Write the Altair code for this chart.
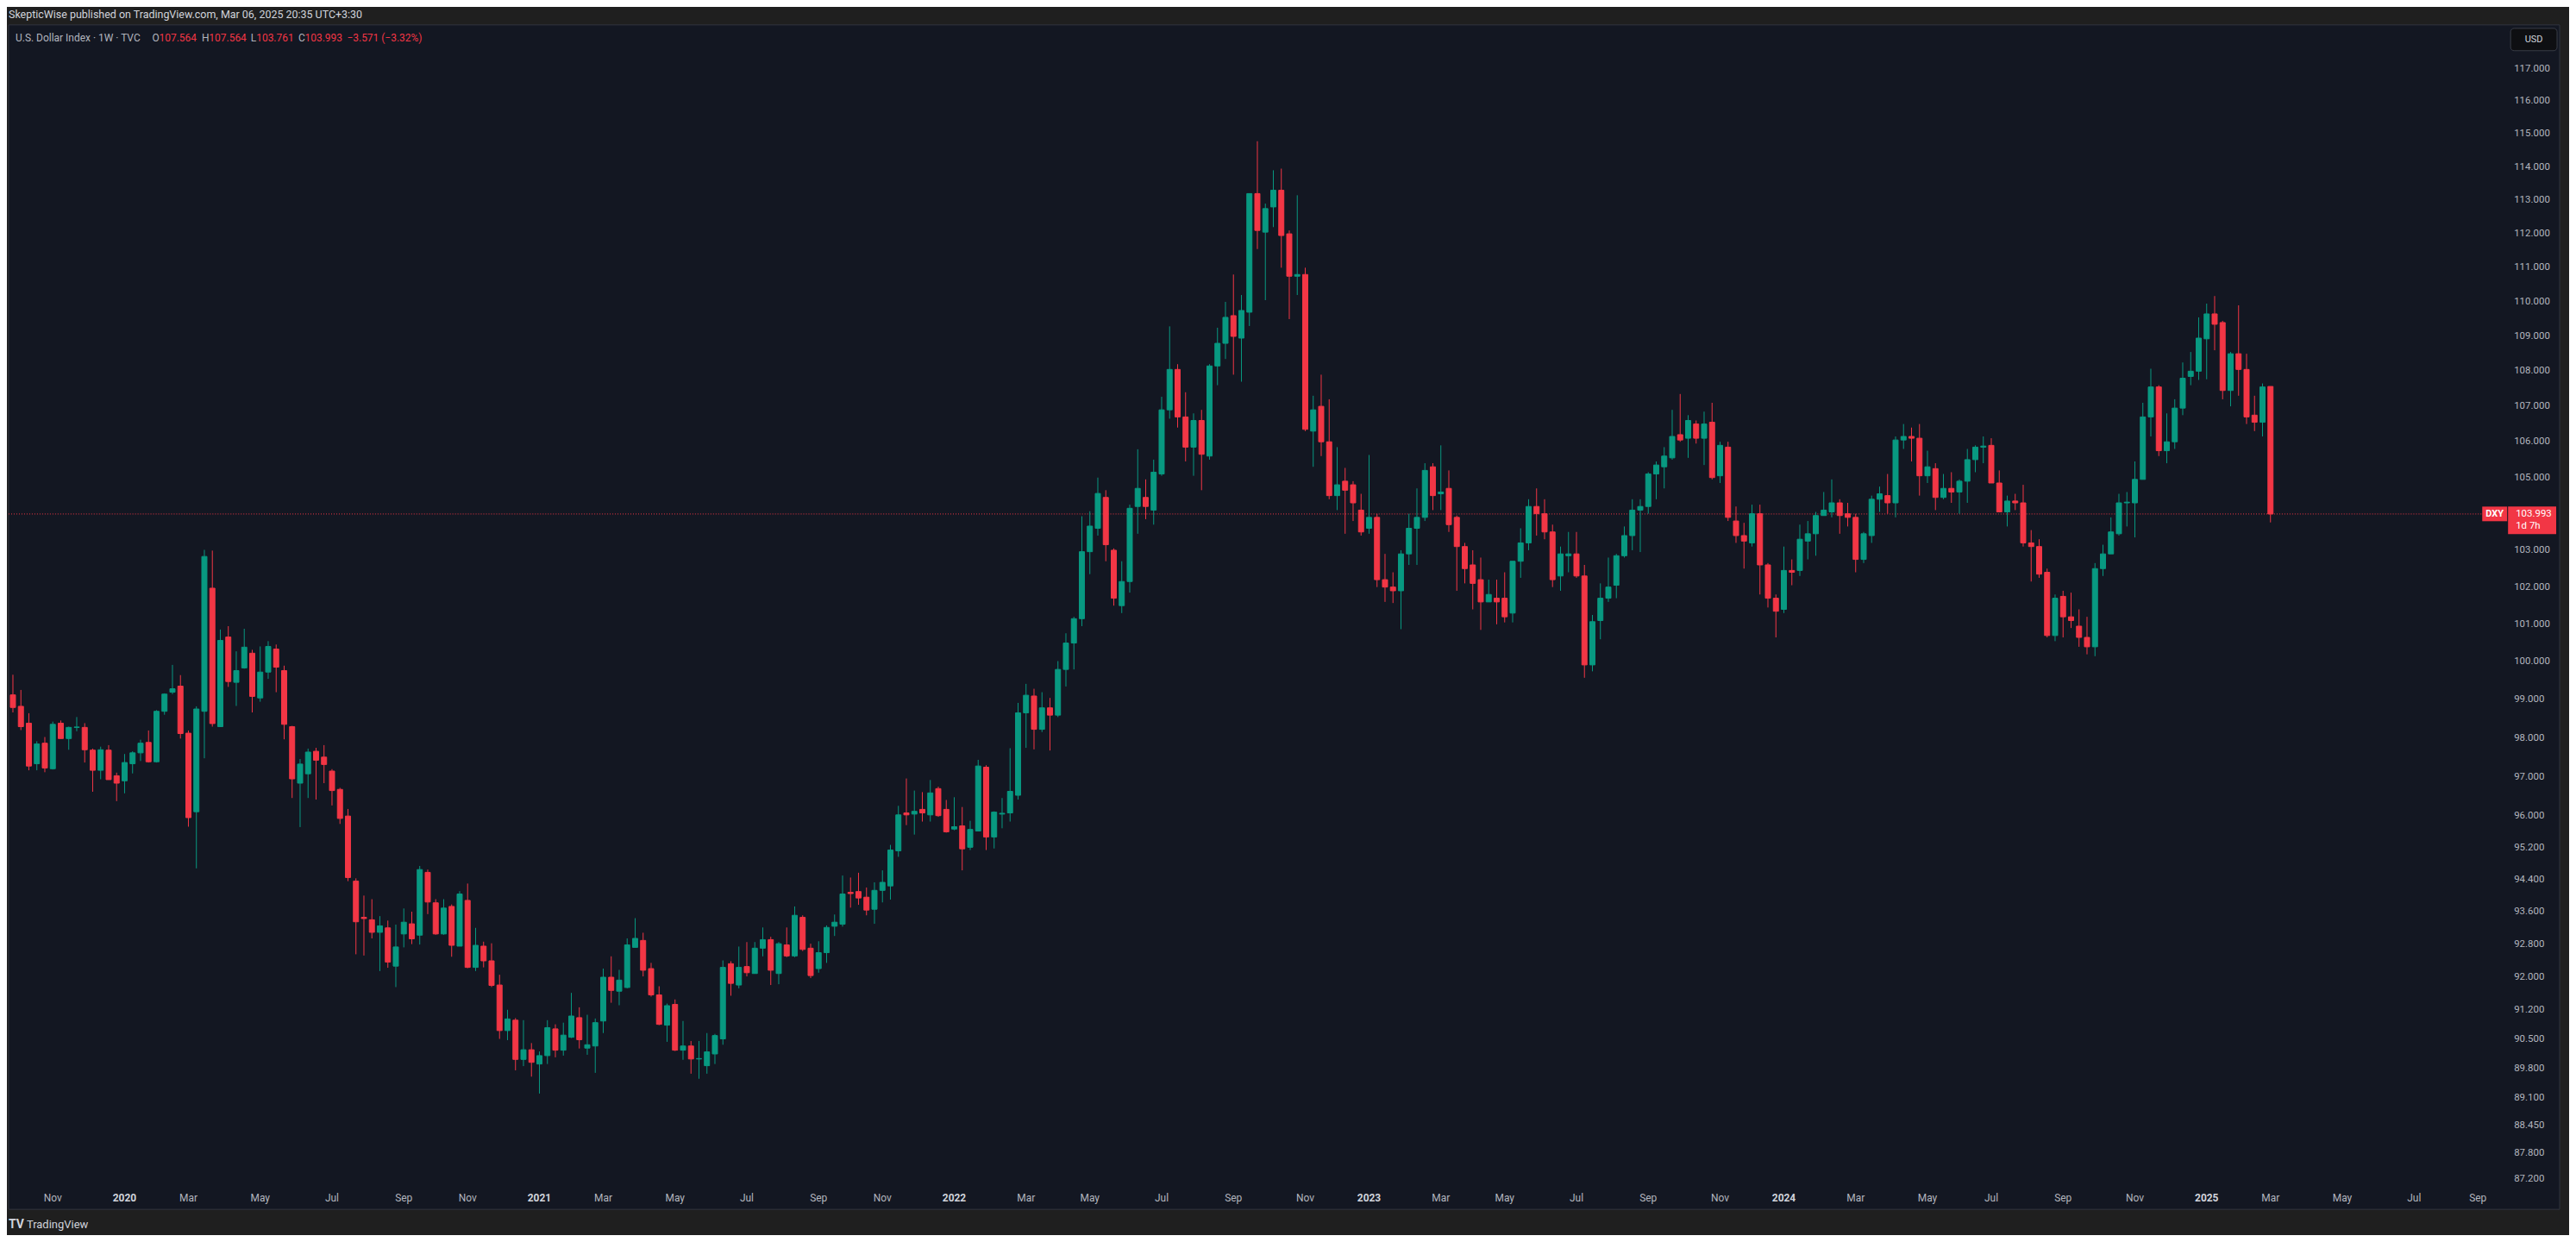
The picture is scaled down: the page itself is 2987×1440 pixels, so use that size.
import altair as alt
import pandas as pd

# ---------------- data (weekly DXY candles, first bar = week of 2019-09-30) ----------------
opens = [
    99.13, 98.83, 98.39, 97.34, 97.87, 97.21, 98.39, 97.99, 98.28, 98.28,
    97.69, 97.17, 97.69, 97.03, 96.90, 97.34, 97.62, 97.89, 97.39, 98.70,
    99.20, 99.36, 98.13, 96.11, 98.70, 101.97, 98.30, 100.66, 99.46, 99.84,
    100.23, 99.05, 99.73, 100.34, 99.77, 98.30, 96.84, 97.08, 97.66, 97.51,
    97.15, 96.68, 96.00, 94.36, 93.46, 93.40, 93.09, 93.20, 92.26, 93.05,
    93.30, 93.02, 94.58, 93.82, 93.05, 93.73, 92.75, 93.88, 92.23, 92.75,
    92.39, 91.80, 90.70, 90.95, 90.01, 90.24, 89.90, 90.10, 90.74, 90.23,
    90.54, 91.01, 90.28, 90.33, 90.93, 91.99, 91.65, 91.74, 92.72, 92.89,
    92.20, 91.56, 90.83, 91.33, 90.23, 90.33, 90.02, 89.86, 90.14, 90.50,
    92.32, 91.80, 92.25, 92.08, 92.70, 92.91, 92.08, 92.78, 92.51, 93.46,
    92.70, 92.20, 92.59, 93.24, 93.29, 94.08, 94.10, 93.96, 93.66, 94.13,
    94.24, 95.12, 96.08, 96.05, 96.17, 96.03, 96.70, 96.17, 95.67, 95.75,
    95.21, 95.62, 97.25, 95.47, 96.05, 96.08, 96.53, 98.66, 99.10, 98.23,
    98.79, 98.60, 99.80, 100.50, 101.15, 102.96, 103.60, 104.45, 103.00, 101.50,
    102.15, 104.20, 104.45, 104.10, 105.10, 106.90, 108.05, 106.70, 105.85, 106.60,
    105.60, 108.15, 108.80, 109.60, 108.95, 109.70, 113.20, 112.05, 112.80, 113.30,
    112.00, 110.75, 110.80, 106.30, 107.00, 106.00, 104.50, 104.90, 104.80, 104.10,
    103.60, 103.90, 102.20, 102.00, 101.90, 102.90, 103.60, 103.90, 105.30, 104.55,
    104.70, 103.90, 103.10, 102.60, 102.20, 101.60, 101.70, 101.70, 101.30, 102.70,
    103.20, 104.20, 104.00, 103.50, 102.30, 102.85, 102.90, 102.30, 99.92, 101.10,
    101.70, 102.05, 102.85, 103.40, 104.10, 104.20, 105.10, 105.30, 105.55, 106.20,
    106.10, 106.50, 106.10, 106.55, 105.05, 105.85, 103.80, 103.40, 103.20, 104.00,
    102.60, 101.70, 101.40, 102.45, 102.45, 103.25, 103.45, 103.95, 104.05, 104.30,
    104.00, 103.90, 102.75, 103.40, 104.40, 104.50, 104.30, 106.05, 106.15, 106.10,
    105.05, 105.25, 104.45, 104.70, 104.60, 104.90, 105.50, 105.85, 105.90, 104.85,
    104.05, 104.35, 104.30, 103.20, 103.10, 102.40, 100.70, 101.75, 101.20, 100.95,
    100.65, 100.40, 102.50, 102.90, 103.45, 104.30, 104.30, 104.95, 106.70, 107.55,
    105.75, 106.00, 106.95, 107.85, 108.00, 108.93, 109.65, 109.40, 107.45, 108.50,
    108.05, 106.75, 106.55, 107.564,
]
highs = [
    99.66, 99.26, 98.65, 97.92, 98.03, 98.43, 98.46, 98.30, 98.55, 98.39,
    97.73, 97.78, 97.82, 97.11, 97.59, 97.66, 97.96, 98.20, 98.73, 99.17,
    99.92, 99.65, 98.20, 98.83, 103.01, 102.99, 100.86, 100.95, 100.28, 100.88,
    100.32, 100.41, 100.55, 100.46, 99.90, 98.32, 97.46, 97.73, 97.75, 97.82,
    97.20, 96.72, 96.18, 94.43, 94.00, 93.91, 93.49, 93.38, 93.28, 93.68,
    93.60, 94.74, 94.65, 93.91, 93.91, 93.78, 94.11, 94.30, 93.20, 92.86,
    92.82, 92.05, 91.20, 91.00, 90.95, 90.40, 90.20, 90.95, 90.85, 90.89,
    91.61, 91.26, 91.08, 90.99, 92.20, 92.50, 92.17, 92.94, 93.44, 93.08,
    92.34, 91.77, 91.35, 91.45, 90.93, 90.45, 90.45, 90.64, 90.62, 92.40,
    92.38, 92.74, 92.85, 92.85, 93.21, 92.98, 92.85, 93.21, 93.73, 93.51,
    92.81, 92.87, 93.26, 93.53, 94.50, 94.45, 94.57, 94.20, 94.33, 94.63,
    95.27, 96.26, 96.96, 96.65, 96.61, 96.92, 96.75, 96.41, 96.48, 96.23,
    95.88, 97.44, 97.30, 96.12, 96.46, 97.74, 98.92, 99.42, 99.29, 99.20,
    99.05, 100.02, 100.76, 101.20, 103.93, 104.07, 105.00, 104.65, 103.05, 102.70,
    104.25, 105.79, 104.95, 105.50, 107.27, 109.29, 108.20, 107.40, 106.80, 106.90,
    108.20, 109.25, 110.00, 110.80, 110.20, 113.20, 114.78, 112.90, 113.90, 113.95,
    112.10, 113.15, 111.00, 107.30, 107.90, 107.20, 105.85, 105.27, 104.90, 104.55,
    105.63, 104.00, 102.90, 102.40, 103.00, 104.00, 104.70, 105.40, 105.40, 105.90,
    105.20, 103.95, 103.20, 103.00, 102.80, 102.20, 102.20, 102.40, 102.70, 103.60,
    104.40, 104.70, 104.40, 103.70, 103.10, 103.50, 103.50, 102.60, 101.25, 102.10,
    102.80, 102.90, 103.65, 104.40, 104.40, 105.15, 105.45, 105.85, 106.90, 107.35,
    106.75, 106.60, 106.85, 107.10, 106.00, 106.00, 104.20, 103.75, 104.25, 104.25,
    102.65, 101.80, 103.10, 102.75, 103.70, 103.80, 104.05, 104.60, 104.95, 104.40,
    104.30, 104.00, 103.50, 104.50, 104.75, 105.10, 106.15, 106.50, 106.40, 106.50,
    105.75, 105.40, 105.10, 105.15, 104.95, 105.80, 105.90, 106.15, 106.10, 105.20,
    104.50, 104.55, 104.80, 103.55, 103.30, 102.50, 101.80, 101.90, 101.85, 101.40,
    101.20, 102.65, 103.15, 103.90, 104.55, 104.60, 105.45, 107.10, 108.07, 107.60,
    106.80, 107.20, 108.25, 108.55, 109.55, 109.95, 110.17, 109.45, 108.55, 109.90,
    108.50, 107.30, 107.65, 107.564,
]
lows = [
    98.67, 98.21, 97.17, 97.17, 97.12, 97.19, 97.99, 97.70, 98.18, 97.37,
    96.62, 96.94, 96.93, 96.38, 96.58, 97.09, 97.41, 97.37, 97.37, 98.61,
    99.15, 97.99, 95.73, 94.68, 97.48, 98.30, 98.30, 99.34, 98.84, 99.82,
    98.67, 98.95, 99.55, 99.20, 97.97, 96.46, 95.72, 96.46, 96.42, 96.84,
    96.27, 95.80, 94.36, 92.55, 92.52, 92.94, 92.14, 92.22, 91.75, 92.72,
    92.80, 92.79, 93.54, 93.03, 93.03, 92.49, 92.75, 92.21, 92.14, 92.23,
    91.75, 90.50, 90.47, 89.75, 89.85, 89.60, 89.20, 89.90, 90.06, 90.10,
    90.52, 90.27, 90.12, 89.69, 90.64, 91.37, 91.31, 91.72, 92.72, 92.01,
    91.52, 90.83, 90.43, 90.21, 90.00, 89.67, 89.55, 89.67, 89.90, 90.36,
    91.54, 91.72, 92.01, 92.08, 92.50, 91.80, 91.82, 92.48, 92.48, 92.63,
    91.97, 92.10, 92.34, 93.00, 93.23, 93.70, 93.77, 93.51, 93.30, 93.83,
    93.90, 94.97, 95.77, 95.53, 95.86, 95.86, 95.98, 95.58, 95.64, 94.63,
    95.14, 95.62, 95.14, 95.18, 95.69, 95.86, 96.42, 97.75, 97.71, 98.16,
    97.68, 98.55, 99.35, 99.80, 100.95, 102.35, 103.40, 102.70, 101.50, 101.30,
    101.85, 103.45, 103.85, 103.70, 105.05, 106.65, 106.40, 105.45, 105.05, 104.65,
    105.50, 107.60, 108.35, 107.90, 107.70, 109.30, 111.55, 110.05, 112.20, 111.00,
    109.50, 110.20, 106.30, 105.30, 105.60, 104.40, 104.10, 103.45, 103.80, 103.40,
    103.45, 102.00, 101.60, 101.57, 100.87, 102.60, 102.60, 103.80, 104.10, 104.10,
    103.50, 101.90, 102.10, 101.40, 100.85, 101.60, 101.00, 101.05, 101.05, 102.25,
    103.00, 103.40, 103.30, 102.00, 101.90, 102.40, 102.25, 99.58, 99.75, 100.60,
    101.60, 101.70, 102.80, 103.00, 102.95, 104.00, 104.40, 104.70, 105.50, 106.00,
    105.55, 105.95, 105.35, 104.95, 104.85, 103.80, 103.20, 102.50, 103.10, 101.80,
    101.45, 100.65, 101.30, 102.05, 102.30, 102.75, 102.85, 103.95, 103.90, 103.45,
    103.65, 102.40, 102.65, 103.20, 104.05, 104.00, 103.90, 105.80, 105.45, 104.50,
    104.85, 104.10, 104.40, 104.30, 104.00, 104.30, 105.15, 105.40, 104.85, 104.05,
    103.65, 104.10, 103.10, 102.15, 102.25, 100.65, 100.55, 100.65, 100.90, 100.40,
    100.20, 100.15, 102.30, 102.90, 103.40, 103.65, 103.35, 104.95, 106.15, 105.60,
    105.40, 105.80, 106.75, 107.60, 107.75, 107.77, 108.60, 107.20, 107.00, 107.30,
    106.50, 106.30, 106.15, 103.761,
]
closes = [
    98.80, 98.30, 97.28, 97.85, 97.23, 98.36, 97.99, 98.28, 98.29, 97.70,
    97.17, 97.70, 96.93, 96.84, 97.37, 97.62, 97.87, 97.39, 98.70, 99.15,
    99.29, 98.12, 95.96, 98.76, 102.83, 98.38, 100.57, 99.48, 99.77, 100.39,
    99.09, 99.73, 100.41, 99.86, 98.36, 96.95, 97.33, 97.64, 97.43, 97.32,
    96.65, 95.94, 94.45, 93.35, 93.43, 93.09, 93.25, 92.36, 92.73, 93.34,
    92.93, 94.65, 93.84, 93.05, 93.69, 92.77, 94.04, 92.23, 92.77, 92.39,
    91.79, 90.70, 90.98, 90.01, 90.24, 89.94, 90.10, 90.77, 90.23, 90.59,
    91.05, 90.48, 90.36, 90.89, 91.99, 91.67, 91.92, 92.78, 92.94, 92.16,
    91.56, 90.85, 91.30, 90.23, 90.33, 90.02, 90.03, 90.19, 90.58, 92.23,
    91.84, 92.23, 92.10, 92.70, 92.91, 92.16, 92.81, 92.51, 93.51, 92.67,
    92.03, 92.59, 93.21, 93.34, 94.04, 94.05, 93.94, 93.64, 94.13, 94.33,
    95.14, 96.03, 96.03, 96.12, 96.08, 96.59, 96.01, 95.60, 95.73, 95.17,
    95.66, 97.28, 95.47, 96.10, 96.07, 96.63, 98.66, 99.12, 98.23, 98.79,
    98.60, 99.80, 100.50, 101.15, 102.96, 103.66, 104.56, 103.15, 101.70, 102.15,
    104.15, 104.70, 104.20, 105.15, 106.90, 108.05, 106.70, 105.85, 106.60, 105.65,
    108.15, 108.80, 109.55, 109.00, 109.75, 113.20, 112.10, 112.75, 113.30, 111.95,
    110.75, 110.80, 106.35, 106.90, 106.00, 104.50, 104.80, 104.65, 104.30, 103.50,
    103.90, 102.20, 102.00, 101.90, 102.90, 103.60, 103.90, 105.20, 104.50, 104.60,
    103.70, 103.10, 102.50, 102.10, 101.60, 101.80, 101.60, 101.20, 102.70, 103.20,
    104.20, 104.00, 103.50, 102.20, 102.90, 102.90, 102.30, 99.92, 101.07, 101.70,
    102.00, 102.85, 103.40, 104.10, 104.20, 105.10, 105.35, 105.60, 106.15, 106.05,
    106.60, 106.10, 106.50, 105.00, 105.90, 103.90, 103.40, 103.25, 104.00, 102.60,
    101.70, 101.35, 102.45, 102.40, 103.30, 103.45, 103.95, 104.10, 104.30, 103.95,
    103.90, 102.75, 103.45, 104.40, 104.55, 104.30, 106.05, 106.15, 106.10, 105.05,
    105.30, 104.45, 104.70, 104.60, 104.90, 105.50, 105.85, 105.88, 104.85, 104.05,
    104.35, 104.30, 103.20, 103.10, 102.35, 100.70, 101.70, 101.20, 101.10, 100.65,
    100.40, 102.50, 102.90, 103.50, 104.30, 104.32, 104.95, 106.70, 107.55, 105.75,
    106.00, 106.95, 107.80, 108.00, 108.95, 109.65, 109.35, 107.45, 108.50, 108.05,
    106.70, 106.55, 107.55, 103.993,
]

# price-scale labels (log scale as in the reference)
price_ticks = [117, 116, 115, 114, 113, 112, 111, 110, 109, 108, 107, 106, 105,
               103, 102, 101, 100, 99, 98, 97, 96, 95.2, 94.4, 93.6, 92.8, 92.0,
               91.2, 90.5, 89.8, 89.1, 88.45, 87.8, 87.2]

# time-scale labels and the bar (week number) they sit on
time_labels = ["Nov", "2020", "Mar", "May", "Jul", "Sep", "Nov", "2021", "Mar", "May",
               "Jul", "Sep", "Nov", "2022", "Mar", "May", "Jul", "Sep", "Nov", "2023",
               "Mar", "May", "Jul", "Sep", "Nov", "2024", "Mar", "May", "Jul", "Sep",
               "Nov", "2025", "Mar", "May", "Jul", "Sep"]
time_label_weeks = [5, 14, 22, 31, 40, 49, 57, 66, 74, 83,
                    92, 101, 109, 118, 127, 135, 144, 153, 162, 170,
                    179, 187, 196, 205, 214, 222, 231, 240, 248, 257,
                    266, 275, 283, 292, 301, 309]

header_line = "SkepticWise published on TradingView.com, Mar 06, 2025 20:35 UTC+3:30"
symbol_line = "U.S. Dollar Index \u00b7 1W \u00b7 TVC"

# ---------------- styling ----------------
UP = "#089981"
DOWN = "#f23645"
TXT = "#b2b5be"
LIGHT = "#d1d4dc"
FONT = "Roboto"

n = min(len(opens), len(highs), len(lows), len(closes))
df = pd.DataFrame({
    "k": list(range(n)),
    "open": opens[:n], "high": highs[:n], "low": lows[:n], "close": closes[:n],
})
df["dir"] = ["up" if c >= o else "down" for o, c in zip(df["open"], df["close"])]

W, H = 2905, 1345          # candle pane
BAR_PX = 9.307             # pixels per weekly bar
xscale = alt.Scale(domain=[0, W / BAR_PX], nice=False, zero=False)
yscale = alt.Scale(type="log", domain=[87.139, 118.37], nice=False, zero=False)
cscale = alt.Scale(domain=["up", "down"], range=[UP, DOWN])

one = pd.DataFrame({"a": [0]})

# pane background
pane = alt.Chart(one).mark_rect(fill="#131722", stroke="#32363f", strokeWidth=1).encode(
    x=alt.value(0), x2=alt.value(2966), y=alt.value(0), y2=alt.value(1377))

# last price line
last_o, last_h, last_l, last_c = opens[n - 1], highs[n - 1], lows[n - 1], closes[n - 1]
pline = alt.Chart(pd.DataFrame({"p": [last_c]})).mark_rule(
    color=DOWN, strokeWidth=1, strokeDash=[1, 2]).encode(
    y=alt.Y("p:Q", scale=yscale, axis=None), x=alt.value(0), x2=alt.value(2876))

base = alt.Chart(df).encode(
    x=alt.X("k:Q", scale=xscale, axis=None),
    color=alt.Color("dir:N", scale=cscale, legend=None))
wicks = base.mark_rule(strokeWidth=1, clip=True).encode(
    y=alt.Y("low:Q", scale=yscale, axis=None), y2="high:Q")
bodies = base.mark_bar(size=6, strokeWidth=1, clip=True).encode(
    y=alt.Y("open:Q", scale=yscale, axis=None), y2="close:Q",
    stroke=alt.Stroke("dir:N", scale=cscale, legend=None))

# price axis labels
ytick_df = pd.DataFrame({"v": price_ticks, "lab": [f"{v:.3f}" for v in price_ticks]})
ylabels = alt.Chart(ytick_df).mark_text(
    align="left", baseline="middle", font=FONT, fontSize=11.5, color=TXT).encode(
    y=alt.Y("v:Q", scale=yscale, axis=None), x=alt.value(2913), text="lab:N")

# time axis labels
tl = pd.DataFrame({"k": time_label_weeks, "lab": time_labels})
tl["year"] = [s.isdigit() for s in time_labels]
months = alt.Chart(tl[~tl["year"]]).mark_text(
    align="center", baseline="middle", font=FONT, fontSize=12, color=TXT).encode(
    x=alt.X("k:Q", scale=xscale, axis=None), y=alt.value(1364), text="lab:N")
years = alt.Chart(tl[tl["year"]]).mark_text(
    align="center", baseline="middle", font=FONT, fontSize=12, fontWeight="bold",
    color=LIGHT).encode(
    x=alt.X("k:Q", scale=xscale, axis=None), y=alt.value(1364), text="lab:N")

# header
hdr1 = alt.Chart(pd.DataFrame({"t": [header_line]})).mark_text(
    align="left", baseline="middle", font=FONT, fontSize=12.5, color=LIGHT).encode(
    x=alt.value(0), y=alt.value(-12), text="t:N")

chg = last_c - last_o
pct = chg / last_o * 100
pieces = pd.DataFrame({
    "t": [symbol_line, "O", f"{last_o:.3f}", "H", f"{last_h:.3f}", "L", f"{last_l:.3f}",
          "C", f"{last_c:.3f}", f"\u2212{abs(chg):.3f} (\u2212{abs(pct):.2f}%)"],
    "px": [8, 167, 175, 224.5, 233, 281.5, 288, 337, 344.5, 393.5],
    "col": [TXT, TXT, DOWN, TXT, DOWN, TXT, DOWN, TXT, DOWN, DOWN],
})
hdr2 = alt.Chart(pieces).mark_text(
    align="left", baseline="middle", font=FONT, fontSize=12).encode(
    x=alt.X("px:Q", scale=None), y=alt.value(15.3), text="t:N",
    color=alt.Color("col:N", scale=None))

# price tags
dxy_box = alt.Chart(one).mark_rect(fill=DOWN).encode(
    x=alt.value(2876), x2=alt.value(2905), y=alt.value(560), y2=alt.value(577))
dxy_txt = alt.Chart(pd.DataFrame({"t": ["DXY"]})).mark_text(
    align="center", baseline="middle", font=FONT, fontSize=11, fontWeight="bold",
    color="#ffffff").encode(x=alt.value(2890.5), y=alt.value(568.5), text="t:N")
px_box = alt.Chart(one).mark_rect(fill=DOWN).encode(
    x=alt.value(2906), x2=alt.value(2962), y=alt.value(560), y2=alt.value(592))
px_txt = alt.Chart(pd.DataFrame({"t": [f"{last_c:.3f}", "1d 7h"], "yy": [568.5, 582.5]})).mark_text(
    align="left", baseline="middle", font=FONT, fontSize=11.5, color="#ffffff").encode(
    x=alt.value(2915), y=alt.Y("yy:Q", scale=None), text="t:N")

usd_box = alt.Chart(one).mark_rect(fill="#0e0f12", stroke="#3a3e48", strokeWidth=1,
                                    cornerRadius=4).encode(
    x=alt.value(2909), x2=alt.value(2963), y=alt.value(4), y2=alt.value(30))
usd_txt = alt.Chart(pd.DataFrame({"t": ["USD"]})).mark_text(
    align="center", baseline="middle", font=FONT, fontSize=11, color=LIGHT).encode(
    x=alt.value(2936), y=alt.value(17), text="t:N")

# footer logo
logo_tv = alt.Chart(pd.DataFrame({"t": ["TV"]})).mark_text(
    align="left", baseline="middle", font=FONT, fontSize=14, fontWeight="bold",
    color=LIGHT).encode(x=alt.value(0), y=alt.value(1395), text="t:N")
logo_txt = alt.Chart(pd.DataFrame({"t": ["TradingView"]})).mark_text(
    align="left", baseline="middle", font=FONT, fontSize=13, color=LIGHT).encode(
    x=alt.value(21), y=alt.value(1395), text="t:N")

chart = alt.layer(
    pane, pline, wicks, bodies, ylabels, months, years, hdr1, hdr2,
    dxy_box, dxy_txt, px_box, px_txt, usd_box, usd_txt, logo_tv, logo_txt,
).properties(
    width=W, height=H,
    padding={"left": 2, "top": 19, "right": 72, "bottom": 60},
    autosize=alt.AutoSizeParams(type="none"),
    background="#1f1f1f",
).configure_view(strokeWidth=0)

chart.save("out.html", embed_options={"renderer": "svg", "actions": False})
